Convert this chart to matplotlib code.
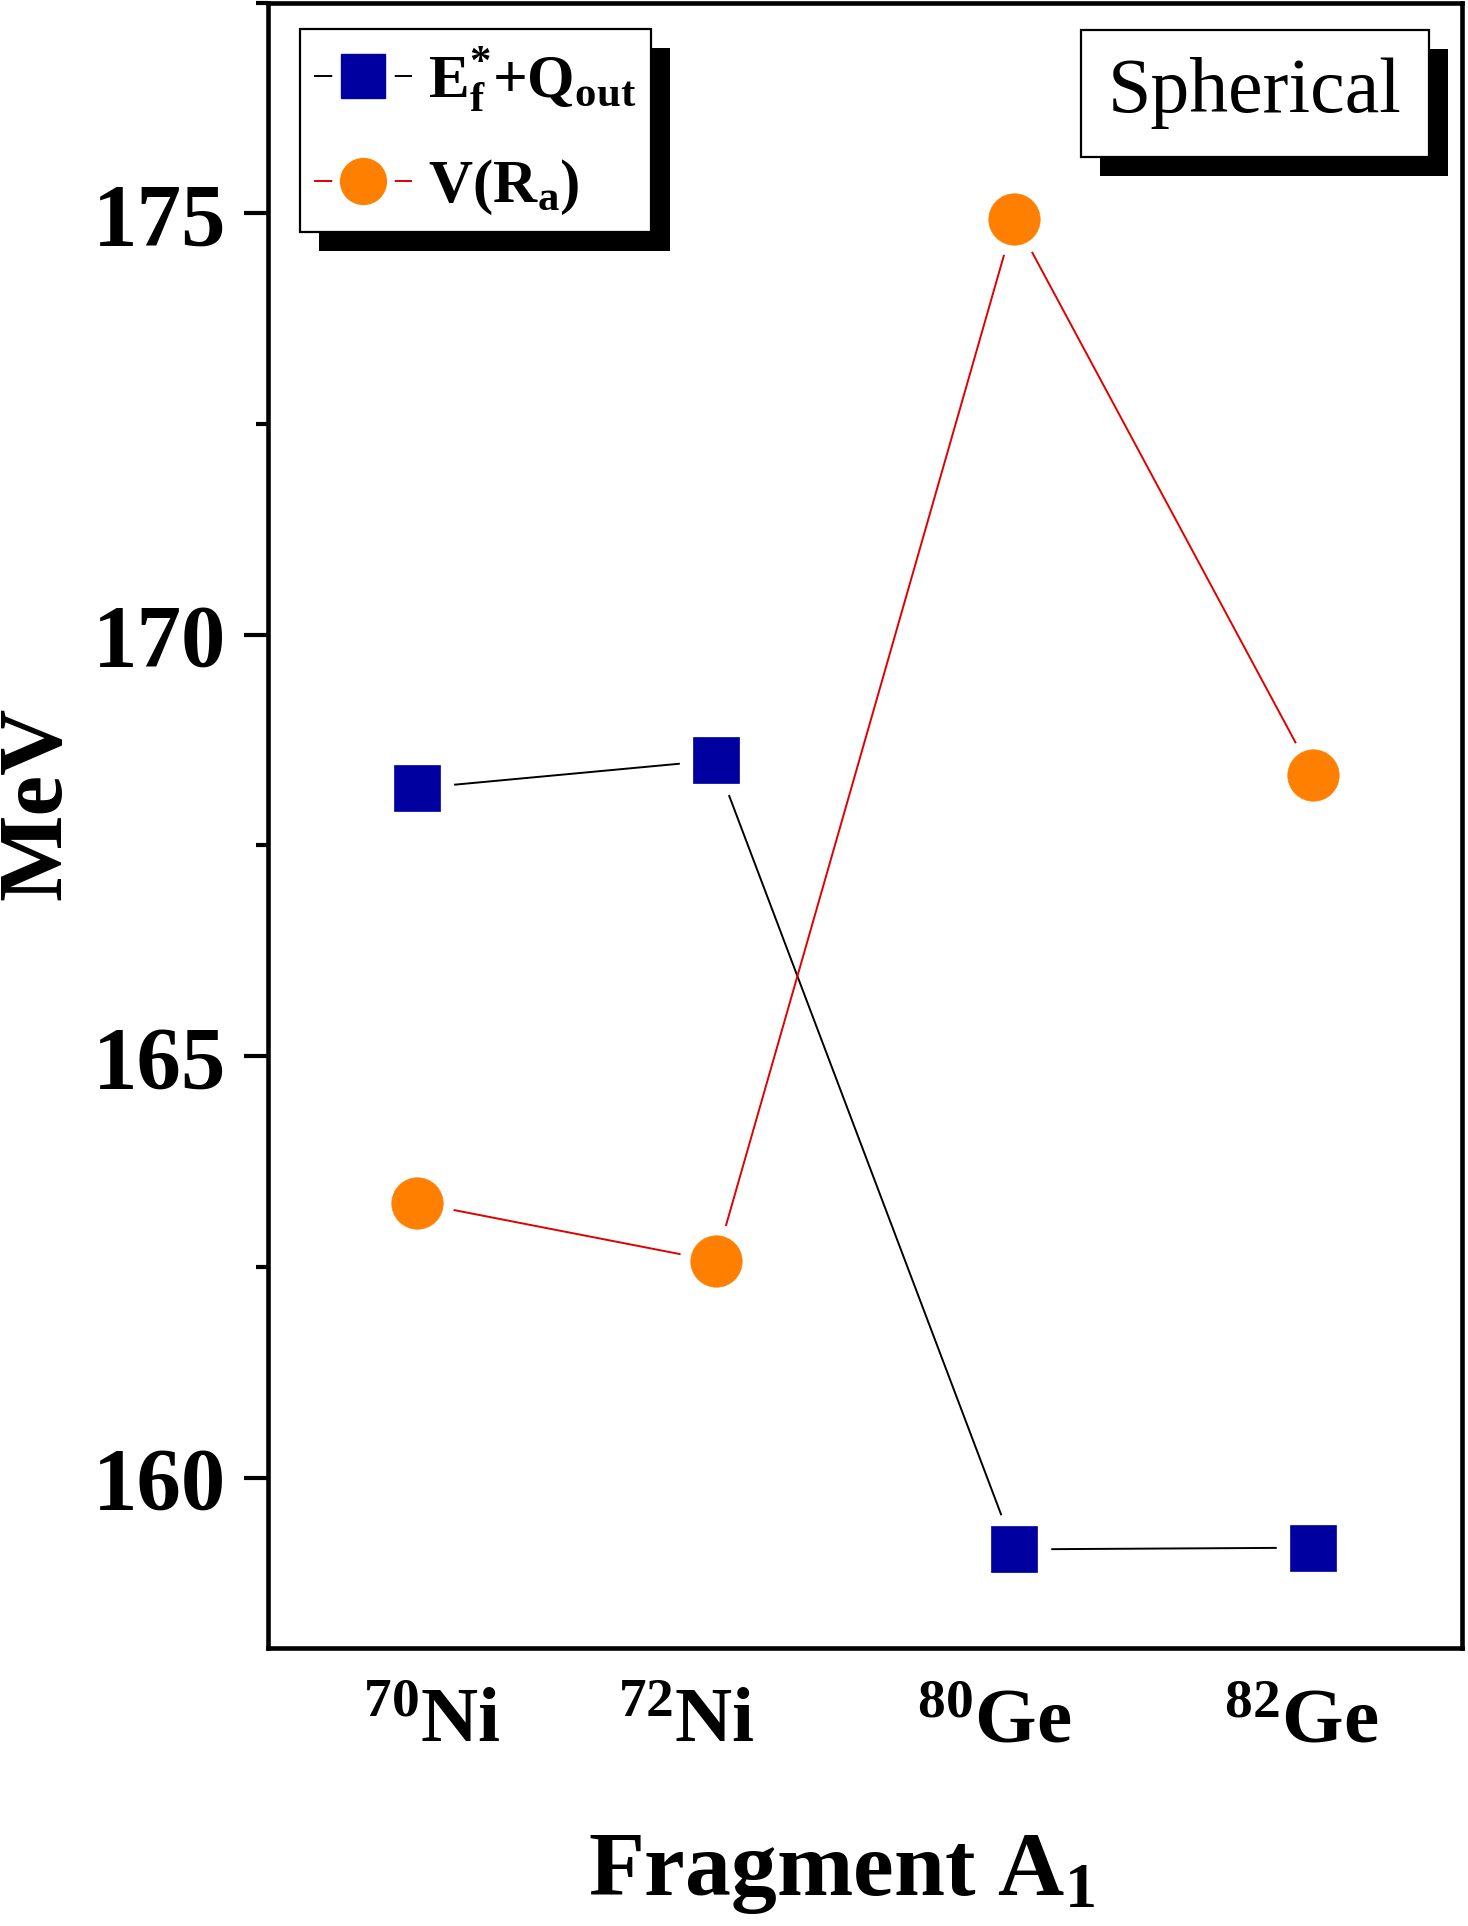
import matplotlib
matplotlib.use("Agg")
import matplotlib.pyplot as plt
from matplotlib.lines import Line2D
from matplotlib.patches import Rectangle
from matplotlib.transforms import IdentityTransform, ScaledTranslation
from matplotlib.ticker import MultipleLocator
from matplotlib.legend_handler import HandlerTuple

# ---------------- data ----------------
fragments = [r"$^{70}$Ni", r"$^{72}$Ni", r"$^{80}$Ge", r"$^{82}$Ge"]
positions = [1, 2, 3, 4]
ef_qout = [168.18, 168.51, 159.15, 159.17]
v_ra = [163.26, 162.57, 174.93, 168.34]

# ---------------- style ----------------
plt.rcParams["font.family"] = ["Liberation Serif", "DejaVu Serif"]
plt.rcParams["font.weight"] = "bold"
plt.rcParams["mathtext.fontset"] = "custom"
plt.rcParams["mathtext.rm"] = "Liberation Serif:bold"
plt.rcParams["mathtext.bf"] = "Liberation Serif:bold"
plt.rcParams["mathtext.it"] = "Liberation Serif:bold"
plt.rcParams["mathtext.default"] = "rm"

DPI = 100
fig = plt.figure(figsize=(14.68, 19.26), dpi=DPI)
ax = fig.add_axes([0.18256, 0.14434, 0.8134, 0.85436])

blue = "#0000A0"
orange = "#FF8000"
red = "#E00000"
gap_ms = 53  # white halo producing the gap between line and marker

# lines
ax.plot(positions, ef_qout, color="black", lw=1.4, zorder=2)
ax.plot(positions, v_ra, color=red, lw=1.4, zorder=2)
# white halos
ax.plot(positions, ef_qout, ls="none", marker="o", ms=gap_ms, mfc="white", mec="none", zorder=3)
ax.plot(positions, v_ra, ls="none", marker="o", ms=gap_ms, mfc="white", mec="none", zorder=3)
# markers
ax.plot(positions, ef_qout, ls="none", marker="s", ms=33.5, mfc=blue, mec=blue, mew=0.5, zorder=4)
ax.plot(positions, v_ra, ls="none", marker="o", ms=37, mfc=orange, mec=orange, mew=0.5, zorder=4)

ax.set_xlim(0.5, 4.5)
ax.set_ylim(157.98, 177.5)

for s in ax.spines.values():
    s.set_linewidth(3.3)

ax.yaxis.set_major_locator(MultipleLocator(5))
ax.yaxis.set_minor_locator(MultipleLocator(2.5))
ax.tick_params(axis="y", which="major", direction="out", length=17.3, width=3.0,
               labelsize=64, pad=13, right=False)
ax.tick_params(axis="y", which="minor", direction="out", length=8.6, width=3.0, right=False)
ax.set_xticks(positions)
ax.set_xticklabels(fragments)
ax.tick_params(axis="x", which="both", length=0, labelsize=57, pad=29, top=False)
for lab in ax.get_xticklabels() + ax.get_yticklabels():
    lab.set_fontweight("bold")

# small horizontal nudges of the fragment labels (pixels), as placed in the original
label_dx_px = [15, -29, -20, -12]
for lab, dx in zip(ax.get_xticklabels(), label_dx_px):
    lab.set_transform(lab.get_transform() + ScaledTranslation(dx / DPI, 0, fig.dpi_scale_trans))

ax.set_xlabel(r"Fragment A$_1$", fontsize=66, fontweight="bold")
ax.xaxis.set_label_coords(0.48, -0.1124)
ax.set_ylabel("MeV", fontsize=66, fontweight="bold")
ax.yaxis.set_label_coords(-0.158, 0.513)

# legend with proxy handles
def handle(color_line, marker, mcolor, ms):
    ln = Line2D([], [], color=color_line, lw=1.4)
    halo = Line2D([], [], ls="none", marker="o", ms=45, mfc="white", mec="none")
    mk = Line2D([], [], ls="none", marker=marker, ms=ms, mfc=mcolor, mec=mcolor)
    return (ln, halo, mk)

leg = ax.legend([handle("black", "s", blue, 31), handle(red, "o", orange, 33)],
                [r"E$_\mathrm{f}^{*}$+Q$_\mathrm{out}$", r"V(R$_\mathrm{a}$)"],
                handler_map={tuple: HandlerTuple(ndivide=1, pad=0)},
                loc="upper left", bbox_to_anchor=(0.0268, 0.984), borderaxespad=0,
                fontsize=44, fancybox=False, edgecolor="black", framealpha=1,
                handlelength=1.56, handletextpad=0.28, labelspacing=0.72,
                borderpad=0.25, numpoints=1)
leg.get_frame().set_linewidth(1.6)
leg.set_zorder(10)

txt = ax.text(0.8266, 0.9447, "Spherical", transform=ax.transAxes, ha="center", va="center",
              fontsize=56, fontweight="normal",
              bbox=dict(boxstyle="square,pad=0.35", fc="white", ec="black", lw=1.6), zorder=10)

fig.canvas.draw()
r = fig.canvas.get_renderer()
off = 19
for bb in [leg.get_frame().get_window_extent(r), txt.get_bbox_patch().get_window_extent(r)]:
    sh = Rectangle((bb.x0 + off, bb.y0 - off), bb.width, bb.height, transform=IdentityTransform(),
                   fc="black", ec="none", zorder=9)
    ax.add_artist(sh)

fig.savefig("out.png", dpi=DPI)
